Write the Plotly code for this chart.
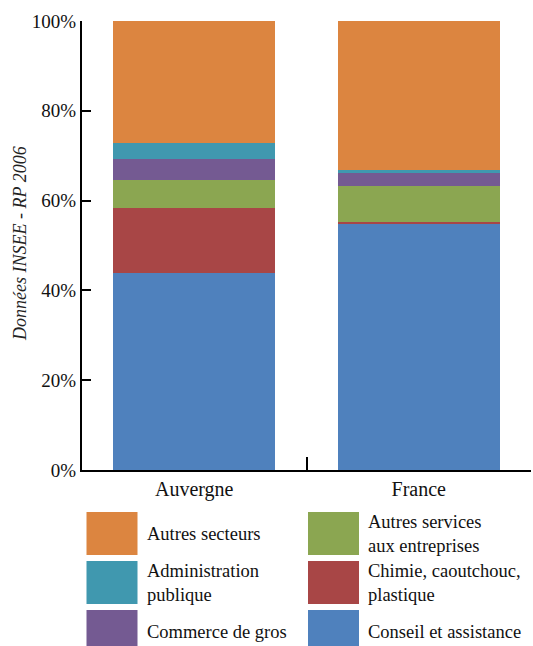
import plotly.graph_objects as go

# Regions compared
regions = ["Auvergne", "France"]

# Sector shares (%), listed bottom to top of each stacked bar
sectors = [
    "Conseil et assistance",
    "Chimie, caoutchouc, plastique",
    "Autres services aux entreprises",
    "Commerce de gros",
    "Administration publique",
    "Autres secteurs",
]
auvergne = [43.9, 14.5, 6.2, 4.6, 3.7, 27.1]
france = [54.8, 0.4, 8.1, 2.8, 0.7, 33.2]
colors = ["#4F81BD", "#A84646", "#8BA651", "#745A92", "#4098AF", "#DC8540"]

# Legend labels (line breaks as printed) and grid order, row by row
legend_labels = {
    "Autres secteurs": "Autres secteurs",
    "Autres services aux entreprises": "Autres services<br>aux entreprises",
    "Administration publique": "Administration<br>publique",
    "Chimie, caoutchouc, plastique": "Chimie, caoutchouc,<br>plastique",
    "Commerce de gros": "Commerce de gros",
    "Conseil et assistance": "Conseil et assistance",
}
legend_order = [
    "Autres secteurs", "Autres services aux entreprises",
    "Administration publique", "Chimie, caoutchouc, plastique",
    "Commerce de gros", "Conseil et assistance",
]

ytick_vals = [0, 20, 40, 60, 80, 100]
ytick_text = ["0%", "20%", "40%", "60%", "80%", "100%"]

FONT = "Liberation Serif"
W, H = 533, 646
ML, MR, MT, MB = 82, 2, 21, 176
PW = W - ML - MR
PH = H - MT - MB


def px_x(px):
    return (px - ML) / PW


def px_y(py):
    return (H - MB - py) / PH


fig = go.Figure()
for i, name in enumerate(sectors):
    fig.add_trace(go.Bar(
        x=regions,
        y=[auvergne[i], france[i]],
        name=name,
        marker=dict(color=colors[i], line=dict(width=0)),
        showlegend=False,
    ))

# Legend drawn as large colour swatches with serif labels
col_x = [86.5, 308]
text_x = [145, 366]
row_top = [512, 561, 610]
sw_w, sw_h = 51, 43
for k, name in enumerate(legend_order):
    r, c = divmod(k, 2)
    color = colors[sectors.index(name)]
    x0, y0 = col_x[c], row_top[r]
    fig.add_shape(
        type="rect", xref="paper", yref="paper",
        x0=px_x(x0), x1=px_x(x0 + sw_w),
        y0=px_y(y0 + sw_h), y1=px_y(y0),
        fillcolor=color, line=dict(width=0), layer="above",
    )
    fig.add_annotation(
        xref="paper", yref="paper",
        x=px_x(text_x[c]), y=px_y(y0 + sw_h / 2),
        xanchor="left", yanchor="middle", align="left",
        text=legend_labels[name], showarrow=False,
        font=dict(family=FONT, size=18.5, color="#111111"),
    )

# Source note along the left edge
fig.add_annotation(
    xref="paper", yref="paper", x=px_x(20), y=px_y(244),
    text="<i>Données INSEE - RP 2006</i>", textangle=-90,
    showarrow=False, xanchor="center", yanchor="middle",
    font=dict(family=FONT, size=18, color="#222222"),
)

fig.update_layout(
    barmode="stack",
    bargap=0.28,
    width=W, height=H,
    margin=dict(l=ML, r=MR, t=MT, b=MB),
    paper_bgcolor="white", plot_bgcolor="white",
    font=dict(family=FONT, size=18, color="#111111"),
)
fig.update_xaxes(
    showline=True, linecolor="black", linewidth=2,
    ticks="inside", tickson="boundaries", ticklen=13,
    tickcolor="black", tickwidth=2,
    tickfont=dict(family=FONT, size=20),
    showgrid=False,
)
fig.update_yaxes(
    range=[0, 100], tickmode="array",
    tickvals=ytick_vals, ticktext=ytick_text,
    showline=True, linecolor="black", linewidth=2,
    ticks="inside", ticklen=9, tickcolor="black", tickwidth=2,
    tickfont=dict(family=FONT, size=19),
    showgrid=False, zeroline=False,
)

fig.write_html("out.html")
